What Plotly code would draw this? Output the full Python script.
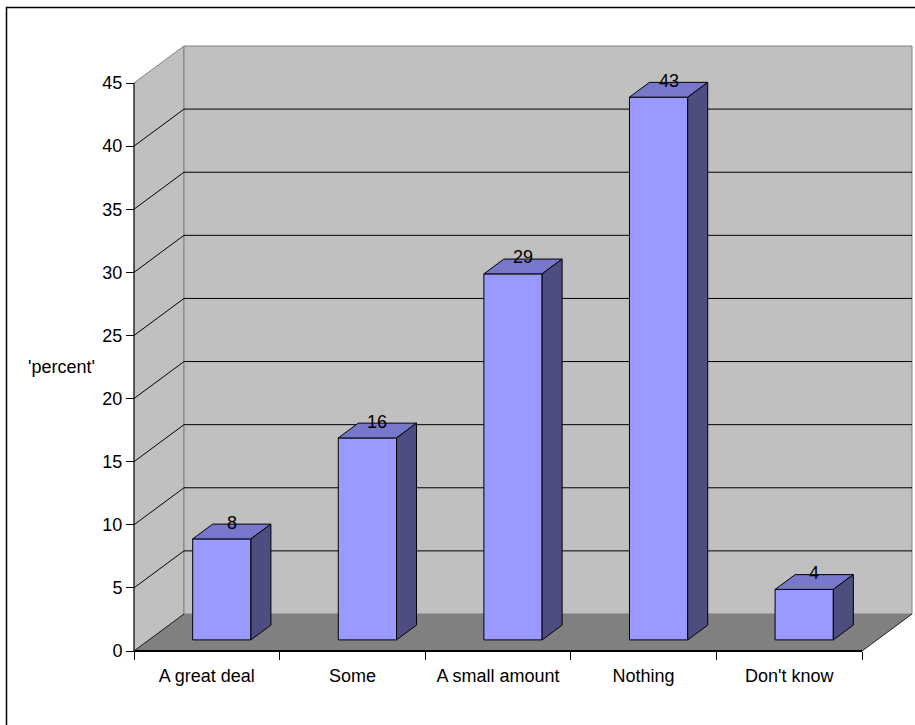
import plotly.graph_objects as go

# ---- data -------------------------------------------------------------
categories = ["A great deal", "Some", "A small amount", "Nothing", "Don't know"]
percent = [8, 16, 29, 43, 4]
y_ticks = [0, 5, 10, 15, 20, 25, 30, 35, 40, 45]
y_title = "'percent'"

# ---- oblique 3D projection (screen pixels per data unit) --------------
PX_CAT = 145.6          # pixels per category slot
PX_VAL = 12.62          # pixels per percent
DEPTH_PX_X = 50         # depth of the chart box, horizontal pixels
DEPTH_PX_Y = 37         # depth of the chart box, vertical pixels
DX = DEPTH_PX_X / PX_CAT
DY = DEPTH_PX_Y / PX_VAL
NCAT = len(categories)
YMAX = y_ticks[-1]

BAR_W = 0.4                       # bar width as share of the slot
BAR_GAP = (1 - BAR_W) / 2
D_FRONT, D_BACK = 0.3, 0.7        # bar depth span inside the box

# ---- figure geometry --------------------------------------------------
W, H = 915, 725
ML, MT = 130, 42
PAD_L, PAD_R, PAD_T, PAD_B = 4, 2, 4, 4
x_range = [-PAD_L / PX_CAT, NCAT + DX + PAD_R / PX_CAT]
y_range = [-PAD_B / PX_VAL, YMAX + DY + PAD_T / PX_VAL]
plot_w = (x_range[1] - x_range[0]) * PX_CAT
plot_h = (y_range[1] - y_range[0]) * PX_VAL
MR = W - ML - plot_w
MB = H - MT - plot_h


def x_paper(px):
    return (px - ML) / plot_w


def y_paper(py):
    return (MT + plot_h - py) / plot_h


FONT = "Liberation Sans, Arial, sans-serif"
WALL = "#c0c0c0"
FLOOR = "#808080"
EDGE = "#808080"
BAR_FRONT = "#9999ff"
BAR_TOP = "#7777cc"
BAR_SIDE = "#4d4d80"


def polygon(xs, ys, fill, line_color="black", line_width=1):
    return go.Scatter(
        x=list(xs) + [xs[0]], y=list(ys) + [ys[0]],
        mode="lines", fill="toself", fillcolor=fill,
        line=dict(color=line_color, width=line_width),
        hoverinfo="skip", showlegend=False,
    )


def segments(pairs, color="black", width=1):
    xs, ys = [], []
    for (x0, y0), (x1, y1) in pairs:
        xs += [x0, x1, None]
        ys += [y0, y1, None]
    return go.Scatter(x=xs, y=ys, mode="lines",
                      line=dict(color=color, width=width),
                      hoverinfo="skip", showlegend=False)


fig = go.Figure()

# left side wall and back wall
fig.add_trace(polygon([0, 0, DX, DX], [0, YMAX, YMAX + DY, DY], WALL, EDGE))
fig.add_trace(polygon([DX, NCAT + DX, NCAT + DX, DX],
                      [DY, DY, YMAX + DY, YMAX + DY], WALL, EDGE))
# floor
fig.add_trace(polygon([0, NCAT, NCAT + DX, DX], [0, 0, DY, DY], FLOOR,
                      FLOOR, 0))
fig.add_trace(segments([((0, 0), (DX, DY)), ((NCAT, 0), (NCAT + DX, DY))],
                       "#202020", 1))

# gridlines across side wall and back wall
grid = []
for t in y_ticks[1:-1]:
    grid.append(((0, t), (DX, t + DY)))
    grid.append(((DX, t + DY), (NCAT + DX, t + DY)))
fig.add_trace(segments(grid, "black", 1))

# front axis lines
fig.add_trace(segments([((0, 0), (0, YMAX))], "black", 1))
fig.add_trace(segments([((0, 0), (NCAT, 0))], "black", 2))

# 3D bars
fx, fy = D_FRONT * DX, D_FRONT * DY
ddx, ddy = (D_BACK - D_FRONT) * DX, (D_BACK - D_FRONT) * DY
for i, v in enumerate(percent):
    x0 = i + BAR_GAP + fx
    x1 = i + BAR_GAP + BAR_W + fx
    b = fy
    top = v + fy
    fig.add_trace(polygon([x0, x1, x1, x0], [b, b, top, top], BAR_FRONT))
    fig.add_trace(polygon([x0, x1, x1 + ddx, x0 + ddx],
                          [top, top, top + ddy, top + ddy], BAR_TOP))
    fig.add_trace(polygon([x1, x1 + ddx, x1 + ddx, x1],
                          [b, b + ddy, top + ddy, top], BAR_SIDE))

# value labels above bars
annotations = []
for i, v in enumerate(percent):
    annotations.append(dict(
        x=i + 0.5 + 0.5 * DX, y=v + 0.5 * DY, xref="x", yref="y",
        text=str(v), showarrow=False, yshift=9,
        xanchor="center", yanchor="middle",
        font=dict(family=FONT, size=18, color="black"),
    ))

annotations.append(dict(
    x=x_paper(62), y=y_paper(367), xref="paper", yref="paper",
    text=y_title, showarrow=False, xanchor="center", yanchor="middle",
    font=dict(family=FONT, size=18, color="black"),
))

x_axis_pos = (0 - y_range[0]) / (y_range[1] - y_range[0])
y_axis_pos = (0 - x_range[0]) / (x_range[1] - x_range[0])

fig.update_layout(
    template="none",
    width=W, height=H,
    margin=dict(l=ML, r=MR, t=MT, b=MB, pad=0),
    paper_bgcolor="white", plot_bgcolor="rgba(0,0,0,0)",
    showlegend=False,
    font=dict(family=FONT, size=18, color="black"),
    annotations=annotations,
    xaxis=dict(
        range=x_range, anchor="free", position=x_axis_pos,
        tickmode="array", tickvals=[i + 0.5 for i in range(NCAT)],
        ticktext=categories, ticks="outside", ticklen=8,
        tickcolor="rgba(0,0,0,0)",
        minor=dict(tickmode="array", tickvals=list(range(NCAT + 1)),
                   ticks="outside", ticklen=8, tickcolor="black",
                   tickwidth=1, showgrid=False),
        showline=False, showgrid=False, zeroline=False,
        automargin=False, fixedrange=True,
        tickfont=dict(family=FONT, size=18, color="black"),
    ),
    yaxis=dict(
        range=y_range, anchor="free", position=y_axis_pos,
        tickmode="array", tickvals=y_ticks, ticks="outside", ticklen=8,
        tickcolor="black", tickwidth=1,
        showline=False, showgrid=False, zeroline=False,
        automargin=False, fixedrange=True,
        tickfont=dict(family=FONT, size=18, color="black"),
    ),
    shapes=[dict(
        type="rect", xref="paper", yref="paper",
        x0=x_paper(6.5), x1=x_paper(935), y0=y_paper(745), y1=y_paper(7.5),
        line=dict(color="black", width=1.5), fillcolor="rgba(0,0,0,0)",
        layer="above",
    )],
)

fig.write_html("out.html")
